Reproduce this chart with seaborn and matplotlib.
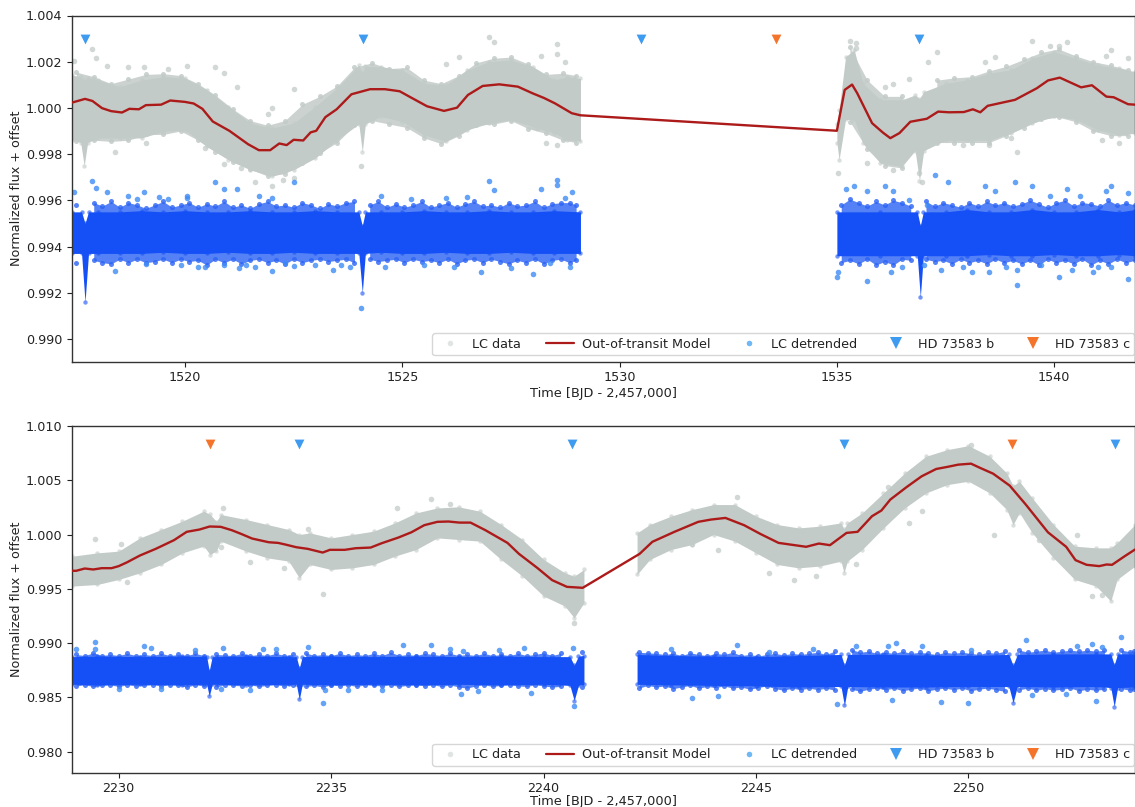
import matplotlib
matplotlib.use("Agg")
import matplotlib.pyplot as plt
import seaborn as sns
from matplotlib.lines import Line2D

sns.set_theme(style="ticks")
plt.rcParams['font.family'] = ['DejaVu Sans']

# ---------- TOP PANEL ----------
top_model_x = [1517.4,1517.7,1517.87,1518.09,1518.3,1518.55,1518.72,1518.94,1519.1,1519.45,1519.66,1520,1520.2,1520.4,1520.64,1521.02,1521.45,1521.7,1521.96,1522.17,1522.34,1522.5,1522.72,1522.89,1523.02,1523.23,1523.49,1523.83,1524.26,1524.6,1524.94,1525.19,1525.57,1525.96,1526.26,1526.51,1526.85,1527.23,1527.66,1528,1528.26,1528.51,1528.9,1529.1,1535,1535.18,1535.35,1535.47,1535.81,1536.06,1536.23,1536.44,1536.69,1537.07,1537.33,1537.58,1537.92,1538.13,1538.3,1538.47,1539.1,1539.6,1539.86,1540.13,1540.62,1540.87,1541.2,1541.37,1541.7,1541.86]
top_model_y = [1.00023,1.00039,1.0003,0.99999,0.99986,0.9998,0.99996,0.99994,1.00012,1.00014,1.00032,1.00026,1.00019,0.99996,0.99941,0.99901,0.99843,0.99817,0.99817,0.99846,0.99839,0.99862,0.99859,0.99894,0.99901,0.9996,0.99994,1.00059,1.00081,1.00081,1.00072,1.00046,1.00007,0.99987,1.00001,1.00056,1.00095,1.00102,1.00092,1.00063,1.00043,1.0002,0.99977,0.99968,0.99901,1.00078,1.00101,1.00063,0.99934,0.99893,0.99869,0.99891,0.9994,0.99953,0.99984,0.99981,0.99982,0.99994,0.99981,1.00009,1.00035,1.00085,1.00119,1.00131,1.00089,1.00098,1.00049,1.00046,1.00016,1.00014]

top_gray_x1 = [1517.4,1517.6,1517.68,1517.76,1518,1518.5,1519,1519.5,1520,1520.5,1521,1521.5,1522,1522.5,1523,1523.5,1524,1524.08,1524.15,1524.5,1525,1525.5,1526,1526.5,1527,1527.5,1528,1528.5,1528.8,1529.1]
top_gray_hi1 = [1.00142,1.00135,1.0012,1.0013,1.0012,1.00092,1.0012,1.00135,1.00128,1.00078,1.00006,0.99934,0.99912,0.99934,1.00006,1.00085,1.00186,1.0015,1.0018,1.00178,1.00164,1.00106,1.00099,1.00164,1.002,1.00207,1.00178,1.00121,1.00135,1.00128]
top_gray_lo1 = [0.99862,0.9985,0.9975,0.9985,0.9987,0.99869,0.9987,0.99898,0.99905,0.99833,0.99776,0.99732,0.99704,0.99732,0.99783,0.99862,0.9993,0.9981,0.9993,0.99963,0.99941,0.99883,0.99855,0.99905,0.99934,0.99948,0.99919,0.99891,0.99862,0.99855]
top_gray_x2 = [1535.0,1535.05,1535.2,1535.4,1535.6,1536,1536.5,1536.8,1536.9,1537.0,1537.5,1538,1538.5,1539,1539.5,1540,1540.5,1541,1541.5,1541.86]
top_gray_hi2 = [0.9993,0.9999,1.00222,1.0025,1.00106,1.00035,1.00035,1.00056,1.0004,1.0007,1.00106,1.00121,1.0015,1.00164,1.00214,1.00243,1.00214,1.00185,1.00171,1.00157]
top_gray_lo2 = [0.9985,0.99775,0.9995,0.9995,0.99847,0.99761,0.99747,0.99815,0.99685,0.99815,0.9986,0.9986,0.9986,0.99891,0.99934,0.99963,0.9995,0.99905,0.99883,0.9989]
top_gray_px = [1517.45,1517.87,1517.95,1518.2,1518.7,1519.05,1519.6,1520.05,1520.7,1520.9,1521.2,1521.9,1522.0,1522.5,1522.5,1521.3,1521.6,1522.0,1522.25,1520.45,1520.9,1519.1,1518.4,1524.05,1527.0,1527.1,1528.55,1528.55,1528.2,1528.75,1526.3,1526.0,1528.3,1528.55,1528.1,1535.3,1535.45,1535.45,1536.1,1536.3,1536.65,1537.3,1537.1,1538.4,1538.65,1539.48,1540.3,1541.3,1541.2,1541.7,1539.9,1540.1,1539.14,1535.02,1535.7,1536.3,1536.95,1536.9,1537.9,1538.5,1539.0,1541.1,1541.5]
top_gray_py = [1.00205,1.00255,1.00215,1.0018,1.00175,1.00175,1.0017,1.0018,1.00175,1.0015,1.0009,0.99975,1.0,1.00082,0.99695,0.9974,0.9968,0.9966,0.9969,0.99825,0.99755,0.9985,0.9981,0.9975,1.00305,1.00285,1.00275,1.00235,1.00225,1.002,1.0022,1.0019,0.9985,0.9984,0.99915,1.0029,1.0028,1.0026,1.0009,1.00105,1.00125,1.0024,1.002,1.002,1.0022,1.0029,1.00285,1.0025,1.00225,1.00215,1.0027,1.0027,0.99807,0.9972,0.9976,0.9973,0.9968,0.9972,0.9984,0.9984,0.9987,0.9986,0.9985]
top_gray_fx = [1517.5,1517.9,1518.3,1518.7,1519.1,1519.5,1519.9,1520.3,1520.7,1521.1,
               1521.5,1521.9,1522.3,1522.7,1523.1,1523.5,1523.9,1524.3,1524.7,1525.1,
               1525.5,1525.9,1526.3,1526.7,1527.1,1527.5,1527.9,1528.3,1528.7,1529.0,
               1535.3,1535.7,1536.1,1536.5,1537.3,1537.7,1538.1,1538.5,1538.9,1539.3,
               1539.7,1540.1,1540.5,1540.9,1541.3,1541.7]
top_gray_fhi = [1.00155,1.00135,1.00105,1.00125,1.00145,1.00148,1.0014,1.00105,1.00055,0.99995,
                0.99945,0.99925,0.99945,1.00015,1.0005,1.00095,1.00175,1.00195,1.0017,1.00175,
                1.0012,1.00105,1.0014,1.00195,1.00215,1.0022,1.0019,1.00145,1.0015,1.0014,
                1.00262,1.0012,1.0005,1.0005,1.0012,1.0013,1.00135,1.0016,1.0018,1.0021,
                1.0024,1.00255,1.00225,1.002,1.00185,1.00165]
top_gray_flo = [0.99855,0.9986,0.99855,0.9986,0.99885,0.99885,0.999,0.9986,0.9981,0.99765,
                0.99735,0.99705,0.99715,0.9976,0.99805,0.9985,0.99925,0.99945,0.9993,0.99915,
                0.9987,0.99845,0.9988,0.99925,0.9993,0.99945,0.9991,0.9989,0.9986,0.9985,
                0.9994,0.9982,0.9975,0.9974,0.9985,0.9985,0.9985,0.9985,0.9988,0.99915,
                0.9995,0.9996,0.9994,0.999,0.9988,0.9988]

top_blue_x1 = [1517.4,1517.62,1517.7,1517.78,1518,1518.5,1519,1519.5,1520,1520.5,1521,1521.5,1522,1522.5,1523,1523.5,1524,1524.08,1524.15,1524.5,1525,1525.5,1526,1526.5,1527,1527.5,1528,1528.5,1529.1]
top_blue_hi1 = [0.9955,0.9955,0.9950,0.9955,0.9955,0.9955,0.99555,0.9955,0.99555,0.9955,0.9955,0.99555,0.9955,0.9955,0.99555,0.9955,0.9955,0.9949,0.9955,0.9955,0.9955,0.99555,0.9955,0.9955,0.99555,0.9955,0.9955,0.99555,0.9955]
top_blue_lo1 = [0.9937,0.9937,0.9916,0.9937,0.9937,0.9937,0.9937,0.99375,0.9937,0.9937,0.99375,0.9937,0.9937,0.99375,0.9937,0.9937,0.9937,0.992,0.9937,0.99375,0.9937,0.9937,0.99375,0.9937,0.9937,0.99375,0.9937,0.9937,0.9937]
top_blue_x2 = [1535.0,1536,1536.85,1536.92,1536.99,1537.5,1538,1538.5,1539,1539.5,1540,1540.5,1541,1541.5,1541.86]
top_blue_hi2 = [0.9955,0.9955,0.9955,0.9949,0.9955,0.9955,0.9956,0.9955,0.9955,0.9956,0.9955,0.9955,0.9956,0.9955,0.9956]
top_blue_lo2 = [0.9936,0.9936,0.9936,0.9918,0.9936,0.9936,0.9936,0.99365,0.9936,0.9936,0.99365,0.9936,0.9936,0.99365,0.9936]
top_blue_fx = [1517.5,1517.9,1518.1,1518.3,1518.5,1518.7,1518.9,1519.1,1519.3,1519.5,
               1519.7,1519.9,1520.1,1520.3,1520.5,1520.7,1520.9,1521.1,1521.3,1521.5,
               1521.7,1521.9,1522.1,1522.3,1522.5,1522.7,1522.9,1523.1,1523.3,1523.5,
               1523.7,1523.9,1524.25,1524.45,1524.65,1524.85,1525.05,1525.25,1525.45,1525.65,
               1525.85,1526.05,1526.25,1526.45,1526.65,1526.85,1527.05,1527.25,1527.45,1527.65,
               1527.85,1528.05,1528.25,1528.45,1528.65,1528.85,1529.0,1535.1,1535.3,1535.5,
               1535.7,1535.9,1536.1,1536.3,1536.5,1536.7,1537.05,1537.25,1537.45,1537.65,
               1537.85,1538.05,1538.25,1538.45,1538.65,1538.85,1539.05,1539.25,1539.45,1539.65,
               1539.85,1540.05,1540.25,1540.45,1540.65,1540.85,1541.05,1541.25,1541.45,1541.65,
               1541.85]
top_blue_fhi = [0.9958,0.9959,0.99575,0.99595,0.9957,0.9959,0.9958,0.99565,0.9958,0.99595,
                0.9957,0.9958,0.9959,0.9957,0.99585,0.99575,0.99595,0.9957,0.9958,0.99565,
                0.99585,0.99595,0.99575,0.9958,0.9957,0.9959,0.9958,0.99565,0.99585,0.99575,
                0.9959,0.99595,0.9958,0.99595,0.9957,0.99585,0.9957,0.9958,0.99595,0.9957,
                0.9958,0.9959,0.9957,0.99585,0.99595,0.99575,0.9958,0.9957,0.9959,0.99575,
                0.9958,0.99595,0.9957,0.99585,0.9959,0.9959,0.9958,0.9958,0.99605,0.9959,
                0.99575,0.99595,0.9958,0.9960,0.9959,0.99575,0.99595,0.99575,0.9959,0.9958,
                0.9957,0.9959,0.99575,0.99595,0.9958,0.9959,0.99575,0.99585,0.996,0.99585,
                0.9957,0.9959,0.9960,0.99575,0.9959,0.99585,0.99575,0.996,0.9958,0.9959,
                0.9958]
top_blue_flo = [0.9933,0.9934,0.9933,0.99325,0.99345,0.9933,0.99345,0.9933,0.99335,0.99345,
                0.9933,0.99345,0.99335,0.9934,0.9932,0.99345,0.9933,0.99345,0.99325,0.9934,
                0.99345,0.9933,0.9934,0.99325,0.99345,0.9933,0.9934,0.99345,0.99335,0.9934,
                0.99345,0.9933,0.99345,0.99335,0.9934,0.99345,0.9933,0.99345,0.99335,0.9934,
                0.9933,0.99345,0.99325,0.9934,0.99345,0.9933,0.99345,0.99335,0.99325,0.9934,
                0.9933,0.99345,0.99325,0.9934,0.99345,0.9933,0.9934,0.9933,0.9934,0.99325,
                0.99345,0.9932,0.99335,0.9932,0.99345,0.9934,0.99345,0.99335,0.9934,0.99325,
                0.99345,0.9933,0.9934,0.99325,0.99345,0.9933,0.9934,0.99325,0.9934,0.9932,
                0.99345,0.9933,0.9934,0.99325,0.99345,0.9932,0.9934,0.99325,0.99345,0.9933,
                0.9934]
top_blue_px = [1517.45,1517.87,1517.95,1518.2,1518.7,1519.05,1519.6,1520.05,1520.7,1520.9,1521.2,1521.7,1522.0,1522.5,1522.5,1522.0,1521.6,1520.45,1521.25,1518.4,1519.1,1519.9,1520.3,1523.4,1523.8,1524.05,1524.5,1525.2,1526.0,1526.5,1527.0,1527.1,1528.55,1528.55,1528.2,1528.75,1528.9,1518.9,1519.4,1520.05,1520.9,1521.4,1522.3,1523.0,1523.6,1524.6,1525.5,1526.2,1526.8,1527.5,1528.0,1528.4,1528.85,1535.02,1535.2,1535.4,1535.7,1536.1,1536.3,1536.65,1537.07,1537.25,1537.55,1538.4,1538.65,1539.1,1539.48,1540.3,1541.3,1541.2,1541.7,1539.9,1540.6,1535.01,1535.7,1536.25,1536.5,1537.9,1538.5,1539.14,1539.14,1540.1,1540.9,1541.3,1541.7,1537.0,1537.4,1538.1,1538.9,1539.7,1540.4,1541.0]
top_blue_py = [0.99635,0.99685,0.99655,0.99635,0.9962,0.99635,0.99605,0.9962,0.9968,0.9965,0.9965,0.9962,0.9961,0.9968,0.99315,0.99295,0.9931,0.9931,0.99305,0.99295,0.99325,0.9932,0.9931,0.9930,0.9931,0.99135,0.9962,0.99605,0.9961,0.99615,0.99685,0.99645,0.9969,0.99665,0.9965,0.9961,0.99635,0.99605,0.99615,0.9961,0.9932,0.9932,0.9933,0.9932,0.9932,0.9931,0.9932,0.9931,0.9929,0.99305,0.9928,0.9933,0.9931,0.9929,0.9965,0.9966,0.9964,0.9966,0.9964,0.9960,0.9958,0.9971,0.9968,0.9966,0.9964,0.9968,0.9966,0.9965,0.9966,0.9964,0.9963,0.9962,0.9962,0.9927,0.9925,0.9929,0.9931,0.9931,0.9929,0.9930,0.99235,0.9927,0.9929,0.9931,0.9926,0.9932,0.9930,0.9929,0.9931,0.9932,0.9930,0.9931]

top_b_x = [1517.7,1524.1,1530.5,1536.9]
top_c_x = [1533.6]
top_mark_y = 1.003

# ---------- BOTTOM PANEL ----------
bot_model_x = [2228.9,2229,2229.2,2229.4,2229.6,2229.83,2230,2230.2,2230.5,2230.87,2231.3,2231.6,2231.9,2232.14,2232.4,2232.66,2232.88,2233.14,2233.53,2233.75,2233.92,2234.18,2234.45,2234.8,2234.97,2235.32,2235.58,2235.93,2236.19,2236.58,2236.89,2237.19,2237.5,2237.76,2238.02,2238.28,2238.63,2239.15,2239.42,2239.85,2240.2,2240.55,2240.92,2242.26,2242.56,2243.08,2243.64,2243.94,2244.28,2244.72,2245.1,2245.53,2246.18,2246.48,2246.74,2247.13,2247.39,2247.73,2247.95,2248.16,2248.55,2248.9,2249.24,2249.5,2249.76,2250.06,2250.28,2250.58,2250.97,2251.35,2251.87,2252.3,2252.52,2252.78,2253.08,2253.25,2253.38,2253.68,2253.92]
bot_model_y = [0.99666,0.99666,0.99687,0.99678,0.9969,0.9969,0.99709,0.99745,0.99807,0.99868,0.99948,1.00025,1.00046,1.00074,1.00071,1.0004,1.00006,0.99963,0.99929,0.99923,0.99908,0.99883,0.99868,0.99834,0.99859,0.99859,0.99874,0.9988,0.9992,0.99972,1.00021,1.00086,1.00117,1.0012,1.0011,1.0011,1.0004,0.99923,0.99822,0.99693,0.9958,0.99518,0.99509,0.99822,0.99933,1.00025,1.00117,1.00138,1.00153,1.00086,1.00006,0.99923,0.99887,0.99917,0.99902,1.00015,1.00025,1.00169,1.00221,1.00322,1.00439,1.00537,1.00604,1.00623,1.00644,1.00653,1.00613,1.00561,1.00451,1.00276,1.00021,0.99887,0.99764,0.99721,0.99709,0.99724,0.99721,0.99801,0.99862]

bot_gray_x1 = [2228.9,2229.5,2230,2230.5,2231,2231.5,2232.0,2232.15,2232.3,2232.4,2233,2233.5,2234,2234.25,2234.5,2235,2235.5,2236,2236.5,2237,2237.5,2238,2238.5,2239,2239.5,2240,2240.5,2240.72,2240.95]
bot_gray_hi1 = [0.998,0.99831,0.99847,0.99969,1.00046,1.00123,1.00215,1.00185,1.00120,1.00184,1.00138,1.00092,1.00046,1.0,1.00015,0.99969,1.0,1.00031,1.00107,1.00199,1.00245,1.00255,1.00215,1.00092,0.99954,0.9977,0.99647,0.99616,0.99678]
bot_gray_lo1 = [0.99525,0.9954,0.99586,0.99647,0.99724,0.99831,0.99893,0.99816,0.9985,0.99939,0.99847,0.99785,0.99755,0.99601,0.99724,0.99678,0.99693,0.99724,0.99801,0.99862,0.99969,0.99954,0.99939,0.9977,0.99617,0.99433,0.99341,0.99233,0.99371]
bot_gray_x2 = [2242.2,2242.5,2243,2243.5,2244,2244.5,2245,2245.5,2246,2246.5,2247,2247.07,2247.15,2247.5,2248,2248.5,2249,2249.5,2250,2250.5,2250.9,2251.05,2251.2,2251.5,2252,2252.5,2253,2253.35,2253.5,2253.92]
bot_gray_hi2 = [1.00015,1.00092,1.00169,1.0023,1.00276,1.00276,1.00169,1.00092,1.00061,1.00077,1.00107,1.0005,1.00107,1.00199,1.00383,1.00567,1.00721,1.00782,1.00819,1.00721,1.00567,1.0045,1.0049,1.00337,1.00092,0.99893,0.99877,0.99877,0.99923,1.00092]
bot_gray_lo2 = [0.99632,0.9977,0.99862,0.99908,1.0,0.99939,0.99831,0.99724,0.99693,0.99709,0.99755,0.99647,0.99755,0.99862,1.00061,1.00245,1.00383,1.0046,1.00491,1.00383,1.0023,1.00092,1.0020,1.00015,0.99785,0.99586,0.99525,0.99387,0.99586,0.99709]
bot_gray_px = [2229.45,2230.05,2232.45,2232.4,2234.45,2234.45,2234.8,2237.35,2237.8,2236.55,2238.15,2231.0,2230.2,2229.45,2233.1,2233.9,2240.72,2243.02,2244.55,2245.3,2244.1,2243.5,2247.35,2248.1,2248.9,2250.05,2251.35,2252.55,2252.9,2253.15,2251.65,2250.6,2248.6,2245.9,2246.4]
bot_gray_py = [0.99955,0.99915,1.0024,0.99885,1.00055,0.99965,0.9945,1.0033,1.0028,1.00245,0.9998,0.9995,0.99565,0.99605,0.9975,0.9969,0.99185,1.0012,1.0035,0.9965,0.9986,0.9991,0.9973,1.00435,1.0022,1.00825,1.0023,1.0,0.9943,0.9944,0.9995,1.0,1.0011,0.9958,0.9962]

bot_blue_x1 = [2228.9,2229.5,2230.5,2231.5,2232.0,2232.07,2232.13,2232.2,2232.3,2233,2234,2234.18,2234.25,2234.32,2235,2236,2237,2238,2239,2240,2240.62,2240.72,2240.82,2240.95]
bot_blue_hi1 = [0.98875,0.9888,0.98875,0.9888,0.98875,0.98875,0.98745,0.98875,0.98875,0.9888,0.98875,0.98875,0.9877,0.98875,0.9888,0.98875,0.9888,0.98875,0.9888,0.98875,0.98875,0.98795,0.9888,0.98885]
bot_blue_lo1 = [0.9862,0.98615,0.9862,0.98615,0.9862,0.9862,0.9851,0.9862,0.9862,0.98615,0.9862,0.9862,0.9848,0.9862,0.98615,0.9862,0.98615,0.9862,0.98615,0.9862,0.9861,0.9847,0.9861,0.9862]
bot_blue_x2 = [2242.2,2243,2244,2245,2246,2247.0,2247.08,2247.16,2248,2249,2250,2250.95,2251.05,2251.15,2252,2253,2253.35,2253.43,2253.51,2253.92]
bot_blue_hi2 = [0.98895,0.98885,0.9888,0.98875,0.98885,0.98895,0.98795,0.98895,0.98895,0.9889,0.98885,0.98895,0.98795,0.98895,0.989,0.989,0.989,0.988,0.989,0.989]
bot_blue_lo2 = [0.9862,0.98615,0.9861,0.98605,0.98595,0.986,0.98425,0.986,0.98595,0.98595,0.986,0.986,0.9845,0.986,0.98595,0.986,0.9859,0.98415,0.9859,0.98595]
bot_blue_fx = [2229.0,2229.2,2229.4,2229.6,2229.8,2230.0,2230.2,2230.4,2230.6,2230.8,
               2231.0,2231.2,2231.4,2231.6,2231.8,2232.0,2232.3,2232.5,2232.7,2232.9,
               2233.1,2233.3,2233.5,2233.7,2233.9,2234.1,2234.4,2234.6,2234.8,2235.0,
               2235.2,2235.4,2235.6,2235.8,2236.0,2236.2,2236.4,2236.6,2236.8,2237.0,
               2237.2,2237.4,2237.6,2237.8,2238.0,2238.2,2238.4,2238.6,2238.8,2239.0,
               2239.2,2239.4,2239.6,2239.8,2240.0,2240.2,2240.4,2240.9,2242.25,2242.45,
               2242.65,2242.85,2243.05,2243.25,2243.45,2243.65,2243.85,2244.05,2244.25,2244.45,
               2244.65,2244.85,2245.05,2245.25,2245.45,2245.65,2245.85,2246.05,2246.25,2246.45,
               2246.65,2246.85,2247.25,2247.45,2247.65,2247.85,2248.05,2248.25,2248.45,2248.65,
               2248.85,2249.05,2249.25,2249.45,2249.65,2249.85,2250.05,2250.25,2250.45,2250.65,
               2250.85,2251.2,2251.4,2251.6,2251.8,2252.0,2252.2,2252.4,2252.6,2252.8,
               2253.0,2253.2,2253.6,2253.8,2253.9]
bot_blue_fhi = [0.98895,0.98885,0.9891,0.98885,0.98895,0.98885,0.98905,0.98885,0.98895,0.98885,
                0.98905,0.98885,0.98895,0.98885,0.98905,0.98885,0.98895,0.9889,0.98885,0.98905,
                0.98885,0.98895,0.98885,0.98905,0.98885,0.98895,0.9891,0.98885,0.98895,0.98885,
                0.98905,0.98885,0.98895,0.98885,0.98905,0.98885,0.98915,0.98885,0.98895,0.98885,
                0.98905,0.98895,0.98885,0.98905,0.98885,0.98895,0.98885,0.98905,0.98885,0.98895,
                0.98885,0.98905,0.98885,0.98895,0.9891,0.98885,0.98905,0.98915,0.98915,0.9891,
                0.98905,0.98895,0.98905,0.98885,0.9891,0.98895,0.98885,0.98905,0.98895,0.98915,
                0.98885,0.98895,0.9888,0.98895,0.98905,0.9889,0.98905,0.98895,0.98905,0.98915,
                0.98895,0.98925,0.9894,0.98915,0.98925,0.98905,0.98915,0.98905,0.98925,0.98905,
                0.98915,0.98905,0.98895,0.98915,0.98905,0.98915,0.98905,0.98895,0.98915,0.98905,
                0.98925,0.98935,0.98915,0.98925,0.98935,0.98915,0.98925,0.98935,0.98925,0.98935,
                0.98925,0.98935,0.98935,0.9892,0.9893]
bot_blue_flo = [0.98605,0.98615,0.986,0.9861,0.98615,0.986,0.98615,0.98605,0.9861,0.98615,
                0.98605,0.98615,0.9861,0.98595,0.98615,0.98605,0.98595,0.98615,0.9861,0.98605,
                0.98615,0.986,0.9861,0.98615,0.98605,0.98615,0.986,0.9861,0.98595,0.98615,
                0.98605,0.98615,0.986,0.98615,0.9861,0.98605,0.98615,0.986,0.9861,0.98615,
                0.98605,0.98615,0.986,0.98615,0.98595,0.98585,0.98605,0.98615,0.986,0.9861,
                0.98615,0.98605,0.986,0.98615,0.98605,0.98595,0.986,0.98595,0.98585,0.9861,
                0.98595,0.98605,0.9858,0.98595,0.9861,0.98585,0.986,0.9859,0.98605,0.98585,
                0.98595,0.98575,0.9859,0.98605,0.9858,0.98565,0.98585,0.9857,0.98585,0.9857,
                0.98585,0.98565,0.98575,0.98555,0.98575,0.98585,0.9857,0.98585,0.9856,0.98575,
                0.98585,0.9856,0.98575,0.98585,0.9857,0.98585,0.9856,0.98575,0.98585,0.9857,
                0.98555,0.9857,0.98585,0.98565,0.9858,0.98565,0.98575,0.98585,0.9856,0.98575,
                0.98565,0.98575,0.9858,0.98565,0.98575]
bot_blue_px = [2229.45,2229.45,2230.6,2230.75,2231.8,2232.45,2233.4,2233.7,2234.45,2234.8,2236.7,2237.35,2237.8,2239.55,2238.1,2238.95,2240.7,2240.72,2243.0,2244.55,2245.3,2246.35,2247.35,2248.1,2248.3,2248.9,2250.05,2251.35,2252.55,2252.9,2253.15,2253.6,2243.5,2244.1,2246.9,2248.2,2249.35,2250.0,2251.5,2252.3,2253.0,2229.0,2230.0,2232.4,2234.85,2238.05,2238.45,2231.0,2233.1,2235.4,2236.2,2239.7]
bot_blue_py = [0.9901,0.98945,0.98975,0.9895,0.98935,0.9895,0.98945,0.98945,0.98965,0.98445,0.98985,0.9898,0.98945,0.9895,0.9893,0.98935,0.9895,0.9842,0.98945,0.98985,0.9892,0.98945,0.98975,0.98975,0.9900,0.9897,0.98935,0.9903,0.98975,0.9899,0.98965,0.99055,0.9849,0.9851,0.9844,0.98475,0.98455,0.98445,0.9852,0.9853,0.98465,0.98945,0.9858,0.98575,0.98565,0.9853,0.98555,0.98575,0.9857,0.98565,0.9857,0.9854]

bot_b_x = [2234.25,2240.67,2247.07,2253.45]
bot_c_x = [2232.15,2251.02]
bot_mark_y = 1.0083

# Text
xlabel = "Time [BJD - 2,457,000]"
ylabel = "Normalized flux + offset"
legend_labels = ["LC data", "Out-of-transit Model", "LC detrended", "HD 73583 b", "HD 73583 c"]

GRAY = "#c2cbc7"
BLUE = "#1450f5"
BLUE_LIGHT = "#3f8cf5"
RED = "#ac1a1a"
MB = "#3f9bef"
MC = "#f5742c"
W, H = 1135, 807

fig = plt.figure(figsize=(W / 100, H / 100), dpi=100)
ax1 = fig.add_axes([72 / W, 1 - 362 / H, (W - 72) / W, 346.5 / H])
ax2 = fig.add_axes([72 / W, 1 - 773.3 / H, (W - 72) / W, 347.3 / H])


def band(ax, x, hi, lo, color):
    ax.fill_between(x, lo, hi, color=color, lw=0, zorder=1)
    for vals in (hi, lo):
        sns.scatterplot(x=x, y=vals, ax=ax, color=color, s=10, linewidth=0, alpha=0.6, zorder=1, legend=False)


def fringe(ax, x, hi, lo, color, alpha, gap):
    # jagged cloud edge: one polygon per run of neighbouring samples, so data gaps and transits stay open
    start = 0
    for i in range(1, len(x) + 1):
        if i == len(x) or x[i] - x[i - 1] > gap:
            ax.fill_between(x[start:i], lo[start:i], hi[start:i], color=color, alpha=alpha, lw=0, zorder=1)
            start = i
    for vals in (hi, lo):
        sns.scatterplot(x=x, y=vals, ax=ax, color=color, s=13, linewidth=0, alpha=alpha, zorder=1, legend=False)


def panel(ax, gray_sets, blue_sets, gf, bf, gpx, gpy, bpx, bpy, mx, my, bx, cx, mark_y, xlim, ylim, xticks, yticks, anchor_y, lpad):
    for g in gray_sets:
        band(ax, *g, GRAY)
    if gf:
        fringe(ax, *gf, GRAY, 0.85, 0.45)
    fringe(ax, *bf, "#2a62f5", 0.8, 0.25)
    for b in blue_sets:
        band(ax, *b, BLUE)
    sns.scatterplot(x=gpx, y=gpy, ax=ax, color=GRAY, s=16, linewidth=0, alpha=0.75, zorder=1, legend=False)
    sns.scatterplot(x=bpx, y=bpy, ax=ax, color=BLUE_LIGHT, s=16, linewidth=0, alpha=0.8, zorder=1, legend=False)
    sns.lineplot(x=mx, y=my, ax=ax, color=RED, lw=1.7, zorder=3, sort=False, estimator=None, legend=False)
    sns.scatterplot(x=bx, y=[mark_y] * len(bx), ax=ax, color=MB, marker="v", s=50, linewidth=0, zorder=4, legend=False)
    sns.scatterplot(x=cx, y=[mark_y] * len(cx), ax=ax, color=MC, marker="v", s=50, linewidth=0, zorder=4, legend=False)
    ax.set_xlim(*xlim)
    ax.set_ylim(*ylim)
    ax.set_xticks(xticks)
    ax.set_yticks(yticks)
    ax.set_yticklabels(["%.3f" % v for v in yticks])
    ax.tick_params(labelsize=9.2, colors="#222222", length=3.5, width=0.8)
    ax.tick_params(axis="x", pad=3)
    ax.set_xlabel(xlabel, fontsize=9.3, color="#222222", labelpad=lpad)
    ax.set_ylabel(ylabel, fontsize=9.2, color="#222222", labelpad=2)
    for s in ax.spines.values():
        s.set_color("#333333")
        s.set_linewidth(1.0)
    handles = [
        Line2D([], [], ls="", marker="o", ms=4, color=GRAY, alpha=0.5, mew=0),
        Line2D([], [], color=RED, lw=1.6),
        Line2D([], [], ls="", marker="o", ms=4, color="#6fb8f5", mew=0),
        Line2D([], [], ls="", marker="v", ms=8, color=MB, mew=0),
        Line2D([], [], ls="", marker="v", ms=8, color=MC, mew=0),
    ]
    ax.legend(handles, legend_labels, ncol=5, loc="lower right", fontsize=9.2, frameon=True,
              bbox_to_anchor=(0.9995, anchor_y), borderaxespad=0.0, columnspacing=1.95, handlelength=2.15,
              handletextpad=0.65, borderpad=0.35, labelcolor="#222222")


panel(ax1, [(top_gray_x1, top_gray_hi1, top_gray_lo1), (top_gray_x2, top_gray_hi2, top_gray_lo2)],
      [(top_blue_x1, top_blue_hi1, top_blue_lo1), (top_blue_x2, top_blue_hi2, top_blue_lo2)],
      (top_gray_fx, top_gray_fhi, top_gray_flo), (top_blue_fx, top_blue_fhi, top_blue_flo),
      top_gray_px, top_gray_py, top_blue_px, top_blue_py, top_model_x, top_model_y,
      top_b_x, top_c_x, top_mark_y, (1517.4, 1541.86), (0.989, 1.004),
      [1520, 1525, 1530, 1535, 1540], [0.990, 0.992, 0.994, 0.996, 0.998, 1.000, 1.002, 1.004], 0.02, 2)

panel(ax2, [(bot_gray_x1, bot_gray_hi1, bot_gray_lo1), (bot_gray_x2, bot_gray_hi2, bot_gray_lo2)],
      [(bot_blue_x1, bot_blue_hi1, bot_blue_lo1), (bot_blue_x2, bot_blue_hi2, bot_blue_lo2)],
      None, (bot_blue_fx, bot_blue_fhi, bot_blue_flo),
      bot_gray_px, bot_gray_py, bot_blue_px, bot_blue_py, bot_model_x, bot_model_y,
      bot_b_x, bot_c_x, bot_mark_y, (2228.9, 2253.92), (0.978, 1.010),
      [2230, 2235, 2240, 2245, 2250], [0.980, 0.985, 0.990, 0.995, 1.000, 1.005, 1.010], 0.022, 0)

fig.savefig("out.png", dpi=100)
